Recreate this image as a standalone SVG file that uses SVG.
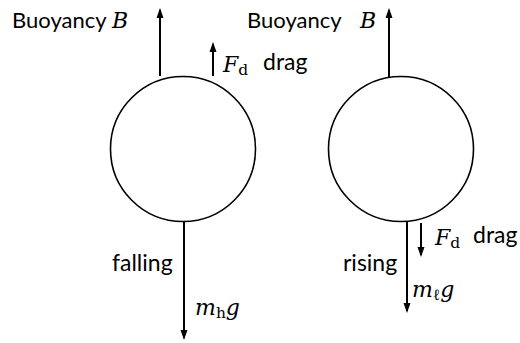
<svg xmlns="http://www.w3.org/2000/svg" width="520" height="343" viewBox="0 0 520 343">
  <style>
    .body { fill: none; stroke: #000; stroke-width: 1.6; }
    .force { stroke: #000; stroke-width: 2; fill: none; }
    .lbl { font-family: Lato, "Open Sans", "Liberation Sans", sans-serif; font-size: 23px; fill: #000; }
    .lbl.b { font-size: 22px; }
    .math { font-family: "DejaVu Serif", "Liberation Serif", serif; font-style: italic; font-size: 22px; fill: #000; }
    .sub { font-family: "DejaVu Serif", "Liberation Serif", serif; font-style: normal; font-size: 15.5px; fill: #000; }
  </style>
  <defs>
    <marker id="ah" viewBox="0 0 10 7" refX="8" refY="3.5" markerWidth="5" markerHeight="3.7" markerUnits="strokeWidth" orient="auto">
      <path d="M0,0 L10,3.5 L0,7 Z" fill="#000"/>
    </marker>
  </defs>

  <g id="heavy-bubble">
    <circle class="body" cx="183" cy="149" r="72.5"/>
    <text class="lbl b" x="12" y="28">Buoyancy</text>
    <text class="math" x="112" y="28">B</text>
    <text class="math" x="223" y="72">F<tspan class="sub" dy="3">d</tspan></text>
    <text class="lbl" x="263" y="70">drag</text>
    <text class="lbl" x="112" y="271">falling</text>
    <text class="math" x="195" y="315">m<tspan class="sub" dy="3">h</tspan><tspan dy="-3">g</tspan></text>
  </g>

  <g id="light-bubble">
    <circle class="body" cx="401" cy="149" r="72.5"/>
    <text class="lbl b" x="247" y="28">Buoyancy</text>
    <text class="math" x="360" y="28">B</text>
    <text class="math" x="435" y="245">F<tspan class="sub" dy="3">d</tspan></text>
    <text class="lbl" x="473" y="243">drag</text>
    <text class="lbl" x="343" y="271">rising</text>
    <text class="math" x="412" y="297">m<tspan class="sub" dy="3">ℓ</tspan><tspan dy="-3">g</tspan></text>
  </g>

  <g id="connectors">
    <line class="force" x1="160" y1="76" x2="160" y2="10" marker-end="url(#ah)"/>
    <line class="force" x1="213" y1="76" x2="213" y2="44" marker-end="url(#ah)"/>
    <line class="force" x1="184" y1="222" x2="184" y2="338" marker-end="url(#ah)"/>
    <line class="force" x1="389" y1="77" x2="389" y2="10" marker-end="url(#ah)"/>
    <line class="force" x1="407" y1="222" x2="407" y2="311" marker-end="url(#ah)"/>
    <line class="force" x1="421" y1="223" x2="421" y2="255" marker-end="url(#ah)"/>
  </g>
</svg>
